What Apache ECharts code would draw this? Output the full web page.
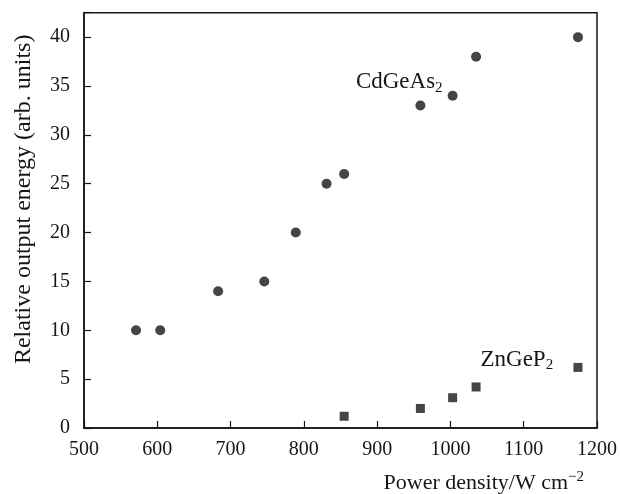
<!DOCTYPE html>
<html>
<head>
<meta charset="utf-8">
<script src="https://cdn.jsdelivr.net/npm/echarts@6/dist/echarts.min.js"></script>
<style>
  html, body { margin: 0; padding: 0; background: #fff; }
  #chart { width: 620px; height: 494px; }
</style>
</head>
<body>
<div id="chart"></div>
<script>
// CdGeAs2 points (power density, output energy)
const cdgeasX = [571, 604, 683, 746, 789, 831, 855, 959, 1003, 1035, 1174];
const cdgeasY = [10, 10, 14, 15, 20, 25, 26, 33, 34, 38, 40];

// ZnGeP2 points
const zngepX = [855, 959, 1003, 1035, 1174];
const zngepY = [1.2, 2.0, 3.1, 4.2, 6.2];

// label anchors (data coords, left edge / middle)
const cdgeasLabelAt = [871, 35.4];
const zngepLabelAt = [1041, 7.0];

const ink = "#161616";
const serif = "Liberation Serif";

const pairs = (xs, ys) => xs.map((x, i) => [x, ys[i]]);

const subRich = (size) => ({
  a: { fontFamily: serif, fontSize: size, color: ink, lineHeight: 26 },
  s: { fontFamily: serif, fontSize: 15, color: ink, lineHeight: 14, verticalAlign: "bottom" },
});

const labelPoint = (coord, main, sub) => ({
  symbol: "circle",
  symbolSize: 0,
  data: [{ coord: coord, value: 0 }],
  label: {
    show: true,
    position: "right",
    distance: 0,
    formatter: "{a|" + main + "}{s|" + sub + "}",
    rich: subRich(23),
  },
});

var chartDom = document.getElementById("chart");
var myChart = echarts.init(chartDom);
var option;

option = {
  animation: false,
  backgroundColor: "#fff",
  grid: {
    left: 84,
    right: 21,
    top: 12.7,
    bottom: 64.5,
    show: true,
    borderColor: ink,
    borderWidth: 1.5,
  },
  xAxis: {
    type: "value",
    min: 500,
    max: 1200,
    interval: 100,
    name: "{a|Power density/W cm}{s|−2}",
    nameLocation: "end",
    nameGap: -13,
    nameTextStyle: {
      align: "right",
      verticalAlign: "top",
      padding: [42, 0, 0, 0],
      rich: {
        a: { fontFamily: serif, fontSize: 22, color: ink, lineHeight: 26 },
        s: { fontFamily: serif, fontSize: 15, color: ink, lineHeight: 14, verticalAlign: "top" },
      },
    },
    axisLine: { lineStyle: { color: ink, width: 1.5 } },
    axisTick: { inside: true, length: 7, lineStyle: { color: ink, width: 1.2 } },
    axisLabel: {
      fontFamily: serif,
      fontSize: 20,
      color: ink,
      margin: 12,
      formatter: (v) => String(v),
    },
    splitLine: { show: false },
  },
  yAxis: {
    type: "value",
    min: 0,
    max: 42.5,
    interval: 5,
    name: "Relative output energy (arb. units)",
    nameLocation: "middle",
    nameGap: 48,
    nameTextStyle: {
      fontFamily: serif,
      fontSize: 24,
      color: ink,
      padding: [0, 0, 0, 42],
    },
    axisLine: { lineStyle: { color: ink, width: 1.5 } },
    axisTick: { inside: true, length: 7, lineStyle: { color: ink, width: 1.2 } },
    axisLabel: {
      fontFamily: serif,
      fontSize: 20,
      color: ink,
      margin: 14,
      formatter: (v) => (v % 5 === 0 ? String(v) : ""),
    },
    splitLine: { show: false },
  },
  series: [
    {
      name: "CdGeAs2",
      type: "scatter",
      symbol: "circle",
      symbolSize: 10,
      itemStyle: { color: ink },
      data: pairs(cdgeasX, cdgeasY),
      markPoint: labelPoint(cdgeasLabelAt, "CdGeAs", "2"),
    },
    {
      name: "ZnGeP2",
      type: "scatter",
      symbol: "rect",
      symbolSize: 9,
      itemStyle: { color: ink },
      data: pairs(zngepX, zngepY),
      markPoint: labelPoint(zngepLabelAt, "ZnGeP", "2"),
    },
  ],
};

option && myChart.setOption(option);
</script>
</body>
</html>
